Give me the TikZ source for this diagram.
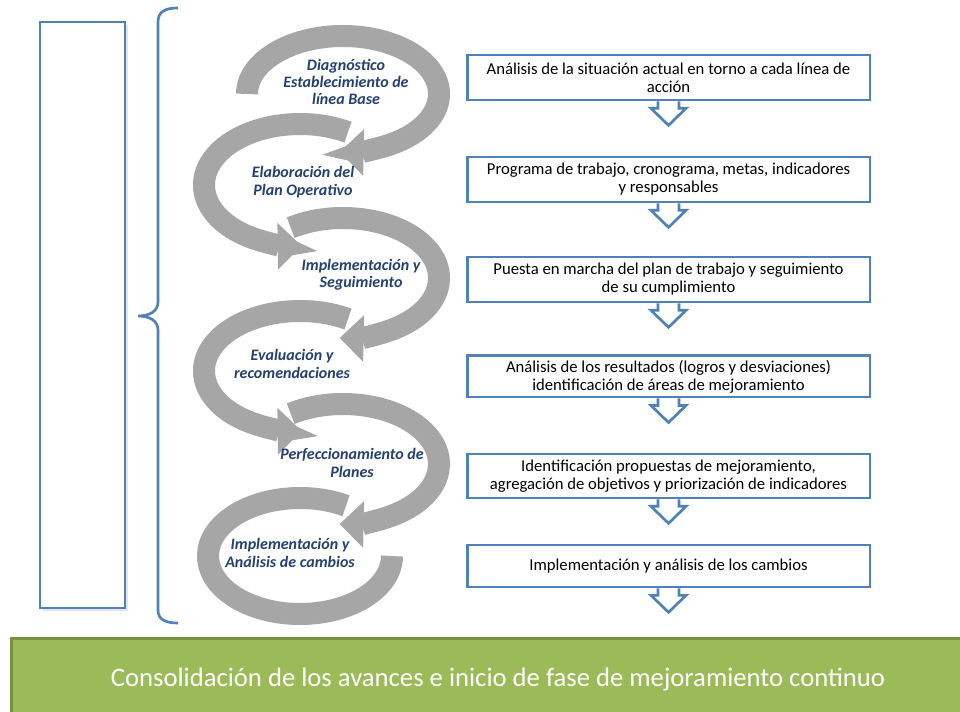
\documentclass[tikz,border=0pt]{standalone}
\usepackage{fontspec}
\setmainfont{Carlito}
\usetikzlibrary{arrows.meta,calc}
\definecolor{boxblue}{RGB}{79,129,189}
\definecolor{arcgray}{RGB}{166,166,166}
\definecolor{labelblue}{RGB}{36,64,116}
\definecolor{greenfill}{RGB}{155,187,89}
\definecolor{greenedge}{RGB}{118,146,60}
\begin{document}
\begin{tikzpicture}[x=0.75pt,y=-0.75pt,
  stepbox/.style={draw=boxblue, line width=2pt, fill=white, minimum width=302pt,
    align=center, font=\fontsize{12.5}{13.5}\selectfont, inner sep=0pt},
  downarrow/.style={draw=boxblue, line width=2pt, fill=white, line join=miter},
  cyclearc/.style={draw=arcgray, line width=16.5pt, -{Triangle[width=34pt,length=18pt]}},
  cycleend/.style={draw=arcgray, line width=16.5pt},
  phase/.style={text=labelblue, font=\fontsize{12}{13}\selectfont\bfseries\itshape,
    align=center, inner sep=0pt},
]
\useasboundingbox (0,0) rectangle (960,712);
\clip (0,0) rectangle (960,712);
\fill[white] (0,0) rectangle (960,712);

% left panel
\fill[black!10] (43,25) rectangle (128,611);
\node[draw=boxblue, line width=1.2pt, fill=white, minimum width=63.75pt,
  minimum height=439.5pt, inner sep=0pt] (panel) at (82.5,315) {};

% brace
\draw[boxblue, line width=2pt] (178,8) .. controls (166,8) and (158,11) .. (158,22)
  -- (158,302) .. controls (158,311) and (150,316) .. (138,316)
  .. controls (150,316) and (158,321) .. (158,330)
  -- (158,610) .. controls (158,620) and (166,623) .. (178,623);

% cycle arrows
\draw[cyclearc] (343,94) ++(180:96 and 58) arc[start angle=180, end angle=452, x radius=96, y radius=58];
\draw[cyclearc] (300,185) ++(300:96 and 61) arc[start angle=300, end angle=89, x radius=96, y radius=61];
\draw[cyclearc] (343,278) ++(237:96 and 60) arc[start angle=237, end angle=452, x radius=96, y radius=60];
\draw[cyclearc] (300,371) ++(300:96 and 60) arc[start angle=300, end angle=89, x radius=96, y radius=60];
\draw[cyclearc] (343,464) ++(237:96 and 60) arc[start angle=237, end angle=452, x radius=96, y radius=60];
\draw[cycleend] (300,556) ++(300:92 and 58) arc[start angle=300, end angle=0, x radius=92, y radius=58];

% phase labels
\node[phase] (p1) at (346,82) {Diagnóstico\\Establecimiento de\\línea Base};
\node[phase] (p2) at (303,182) {Elaboración del\\Plan Operativo};
\node[phase] (p3) at (361,275) {Implementación y\\Seguimiento};
\node[phase] (p4) at (292,364) {Evaluación y\\recomendaciones};
\node[phase] (p5) at (352,463) {Perfeccionamiento de\\Planes};
\node[phase] (p6) at (290,553) {Implementación y\\Análisis de cambios};

% step boxes
\node[stepbox, minimum height=33.75pt] (b1) at (668.5,77.5) {Análisis de la situación actual en torno a cada línea de\\acción};
\node[stepbox, minimum height=33.75pt] (b2) at (668.5,179.5) {Programa de trabajo, cronograma, metas, indicadores\\y responsables};
\node[stepbox, minimum height=33.75pt] (b3) at (668.5,279.5) {Puesta en marcha del plan de trabajo y seguimiento\\de su cumplimiento};
\node[stepbox, minimum height=31pt] (b4) at (668.5,376.5) {Análisis de los resultados (logros y desviaciones)\\identificación de áreas de mejoramiento};
\node[stepbox, minimum height=33pt] (b5) at (668.5,476) {Identificación propuestas de mejoramiento,\\agregación de objetivos y priorización de indicadores};
\node[stepbox, minimum height=31.5pt] (b6) at (668.5,566) {Implementación y análisis de los cambios};

\foreach \b in {b1,b2,b3,b4,b5,b6}{
  \draw[downarrow] ($(\b.south)+(-10.5,0)$) -- ++(0,7) -- ++(-7,0) -- ++(17.5,17)
    -- ++(17.5,-17) -- ++(-7,0) -- ++(0,-7);
}

% bottom band
\node[draw=greenedge, fill=greenfill, line width=2.5pt, minimum width=727.5pt,
  minimum height=67.5pt, anchor=north west, inner sep=0pt] (base) at (10,637) {};
\node[text=white, font=\fontsize{20}{24}\selectfont, inner sep=0pt] (final) at (498,680)
  {Consolidación de los avances e inicio de fase de mejoramiento continuo};
\end{tikzpicture}
\end{document}
